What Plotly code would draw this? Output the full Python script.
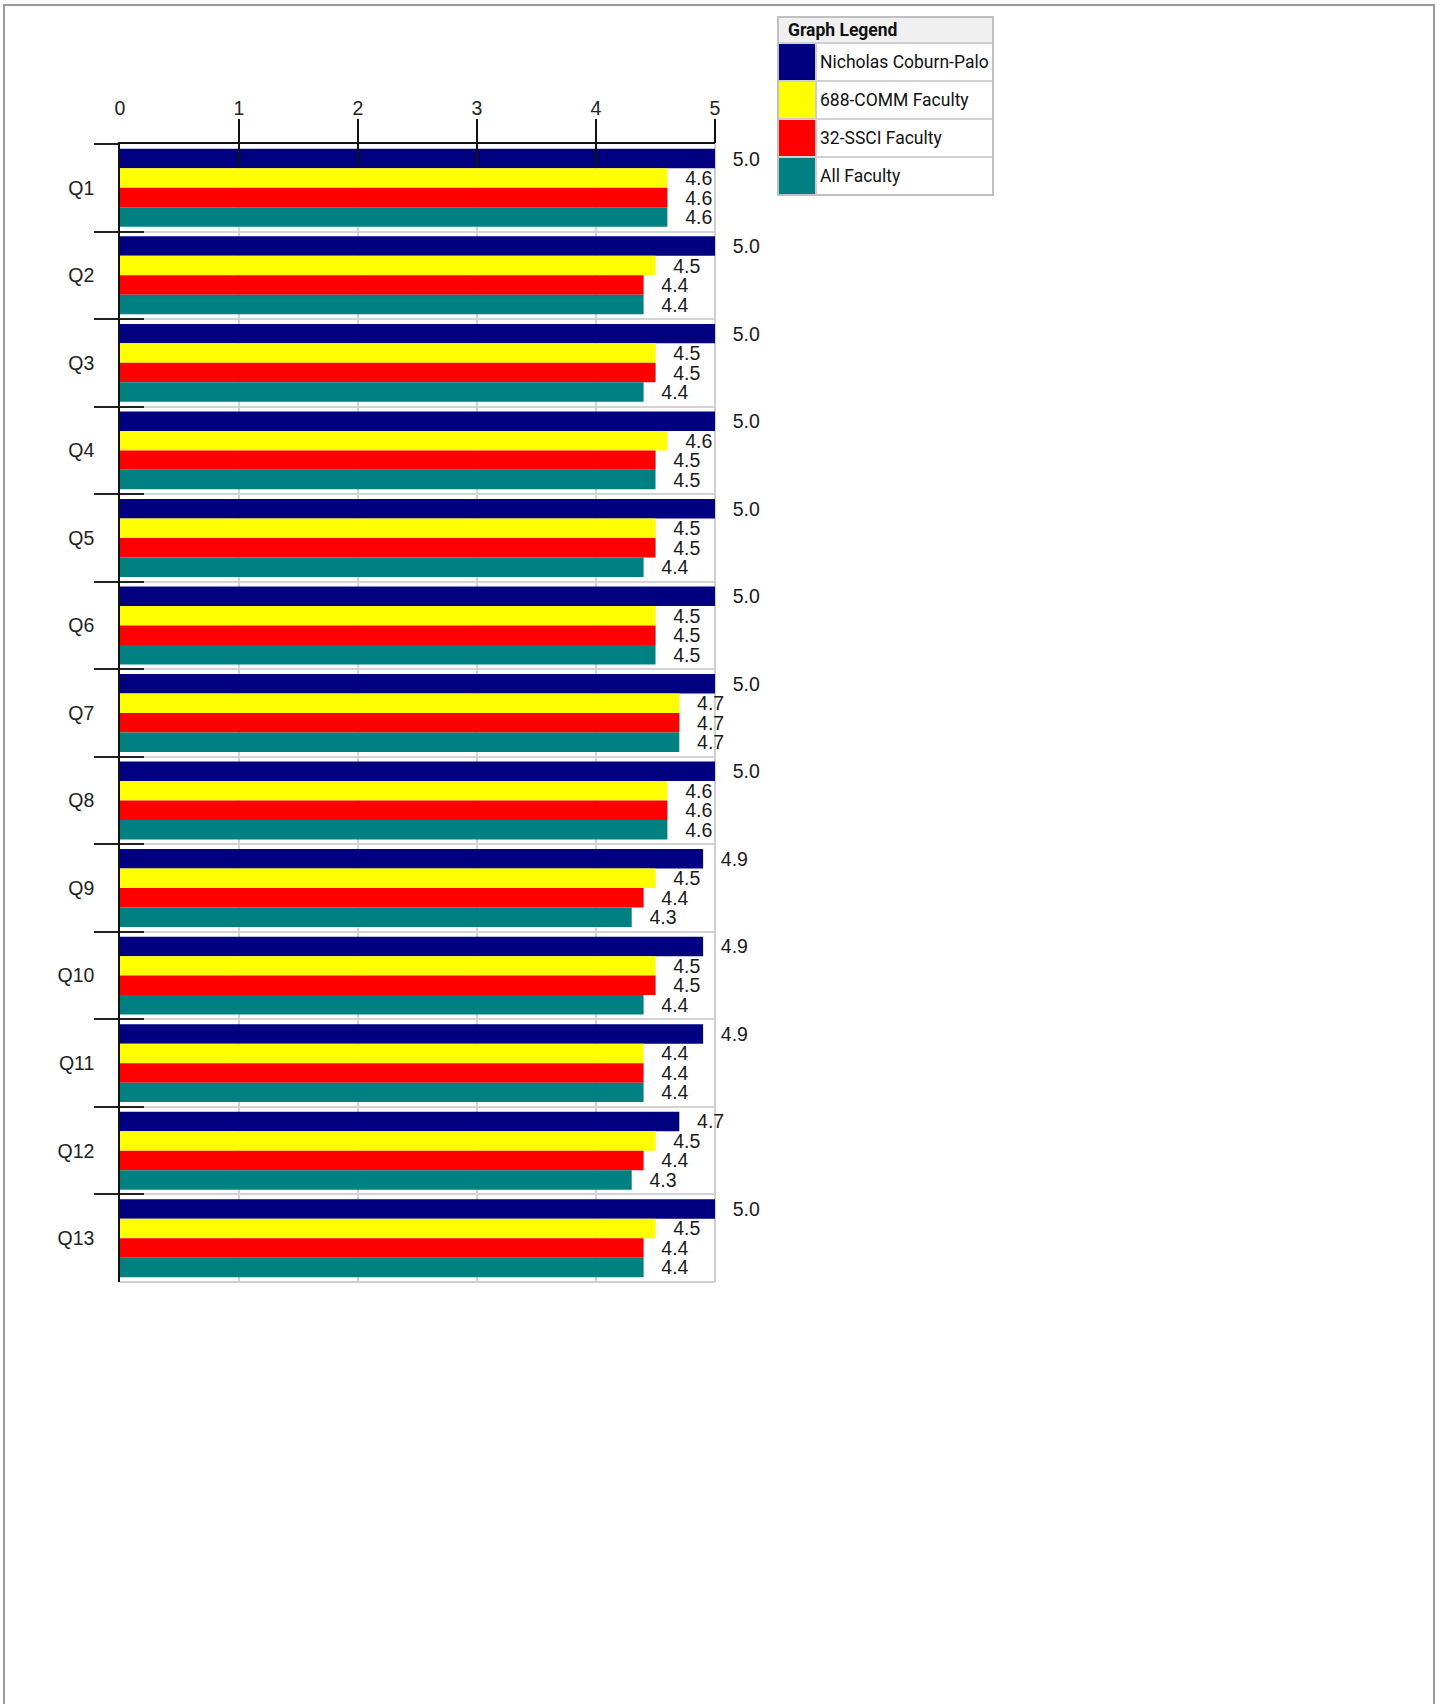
import plotly.graph_objects as go

questions = ["Q1", "Q2", "Q3", "Q4", "Q5", "Q6", "Q7", "Q8", "Q9", "Q10", "Q11", "Q12", "Q13"]
series_names = ["Nicholas Coburn-Palo", "688-COMM Faculty", "32-SSCI Faculty", "All Faculty"]
instructor = [5.0, 5.0, 5.0, 5.0, 5.0, 5.0, 5.0, 5.0, 4.9, 4.9, 4.9, 4.7, 5.0]
dept = [4.6, 4.5, 4.5, 4.6, 4.5, 4.5, 4.7, 4.6, 4.5, 4.5, 4.4, 4.5, 4.5]
college = [4.6, 4.4, 4.5, 4.5, 4.5, 4.5, 4.7, 4.6, 4.4, 4.5, 4.4, 4.4, 4.4]
all_fac = [4.6, 4.4, 4.4, 4.5, 4.4, 4.5, 4.7, 4.6, 4.3, 4.4, 4.4, 4.3, 4.4]
series_values = [instructor, dept, college, all_fac]
colors = ["#000080", "#FFFF00", "#FF0000", "#008080"]
x_ticks = [0, 1, 2, 3, 4, 5]
x_tick_marks = [1, 2, 3, 4, 5]

FIG_W, FIG_H = 1437, 1704
L, R_EDGE, T, B_EDGE = 120, 715, 144, 1282
W, H = R_EDGE - L, B_EDGE - T

def px(x):
    return (x - L) / W

def py(y):
    return (B_EDGE - y) / H

PAD = "\u00a0\u00a0\u2009"
fig = go.Figure()
for name, vals, col in zip(series_names, series_values, colors):
    fig.add_trace(go.Bar(
        y=questions, x=vals, orientation="h", name=name,
        marker=dict(color=col, line=dict(width=0)),
        text=[PAD + f"{v:.1f}" for v in vals],
        textposition="outside", cliponaxis=False, constraintext="none",
        textfont=dict(family="Liberation Sans, Arial", size=19.5, color="#1a1a1a"),
        showlegend=False, hoverinfo="skip",
    ))

# helper invisible traces for the overlay axes (tick marks)
for xa in ("x2", "x3"):
    fig.add_trace(go.Scatter(x=[0] * len(questions), y=questions, xaxis=xa, yaxis="y2",
                             mode="markers", marker=dict(opacity=0), showlegend=False,
                             hoverinfo="skip"))

n = len(questions)
yrange = [n - 0.5, -0.5]
axis_font = dict(family="Liberation Sans, Arial", size=19.5, color="#222222")
fig.update_layout(
    width=FIG_W, height=FIG_H,
    margin=dict(l=L, r=FIG_W - R_EDGE, t=T, b=FIG_H - B_EDGE, pad=0),
    paper_bgcolor="white", plot_bgcolor="white",
    barmode="group", bargap=0.11, bargroupgap=0,
    xaxis=dict(range=[0, 5], side="top", tickvals=x_ticks, ticks="outside", ticklen=24,
               tickwidth=1.5, tickcolor="rgba(0,0,0,0)", showline=True, linecolor="#111",
               linewidth=1.5, showgrid=True, gridcolor="#d3d3d3", gridwidth=1.5,
               zeroline=False, tickfont=axis_font, ticklabelstandoff=-5, fixedrange=True),
    xaxis2=dict(range=[0, 5], overlaying="x", side="top", tickvals=x_tick_marks,
                ticks="outside", ticklen=24, tickwidth=1.5, tickcolor="#111",
                showticklabels=False, showline=False, showgrid=False, zeroline=False,
                anchor="y"),
    xaxis3=dict(range=[0, 5], overlaying="x", side="top", tickvals=x_tick_marks,
                ticks="inside", ticklen=23, tickwidth=1.5, tickcolor="#111",
                showticklabels=False, showline=False, showgrid=False, zeroline=False,
                anchor="y"),
    yaxis=dict(type="category", categoryorder="array", categoryarray=questions,
               range=yrange, autorange=False, tickson="boundaries", ticks="outside", ticklen=24,
               tickwidth=1.5, tickcolor="#222", showline=True, linecolor="#111", linewidth=1.5,
               showgrid=True, gridcolor="#d3d3d3", gridwidth=1.5, zeroline=False,
               tickfont=axis_font, ticklabelstandoff=20),
    yaxis2=dict(type="category", categoryorder="array", categoryarray=questions,
                overlaying="y", side="left", anchor="x", range=yrange, autorange=False,
                tickson="boundaries", ticks="inside", ticklen=24, tickwidth=1.5,
                tickcolor="#222", showticklabels=False, showline=False, showgrid=False,
                zeroline=False),
)

shapes = []
# page frame
shapes.append(dict(type="rect", xref="paper", yref="paper", x0=px(4), x1=px(1434),
                   y0=py(1760), y1=py(5), line=dict(color="#9a9a9a", width=2),
                   fillcolor="rgba(0,0,0,0)", layer="above"))
# plot right and bottom borders
shapes.append(dict(type="line", xref="paper", yref="paper", x0=1, x1=1, y0=0, y1=1,
                   line=dict(color="#cfcfcf", width=2), layer="below"))
shapes.append(dict(type="line", xref="paper", yref="paper", x0=0, x1=1, y0=0, y1=0,
                   line=dict(color="#cfcfcf", width=2), layer="below"))

# legend table
LX0, LX1, SW = 778, 993, 816
LY0, HEAD, ROW = 17, 43, 38
shapes.append(dict(type="rect", xref="paper", yref="paper", x0=px(LX0), x1=px(LX1),
                   y0=py(HEAD), y1=py(LY0), fillcolor="#f0f0f0", line=dict(width=0)))
annotations = [dict(xref="paper", yref="paper", x=px(786), y=py((LY0 + HEAD) / 2),
                    xanchor="left", yanchor="middle", showarrow=False,
                    text="<b>Graph Legend</b>",
                    font=dict(family="Roboto", size=17.5, color="#111"))]
for i, (name, col) in enumerate(zip(series_names, colors)):
    y0 = HEAD + ROW * i
    y1 = y0 + ROW
    shapes.append(dict(type="rect", xref="paper", yref="paper", x0=px(LX0), x1=px(SW),
                       y0=py(y1), y1=py(y0), fillcolor=col, line=dict(width=0)))
    shapes.append(dict(type="line", xref="paper", yref="paper", x0=px(LX0), x1=px(LX1),
                       y0=py(y0), y1=py(y0), line=dict(color="#d0d0d0", width=2)))
    annotations.append(dict(xref="paper", yref="paper", x=px(818), y=py((y0 + y1) / 2),
                            xanchor="left", yanchor="middle", showarrow=False, text=name,
                            font=dict(family="Roboto", size=17.5, color="#111")))
shapes.append(dict(type="line", xref="paper", yref="paper", x0=px(SW), x1=px(SW),
                   y0=py(HEAD + ROW * 4), y1=py(HEAD), line=dict(color="#d0d0d0", width=2)))
shapes.append(dict(type="rect", xref="paper", yref="paper", x0=px(LX0), x1=px(LX1),
                   y0=py(HEAD + ROW * 4), y1=py(LY0), line=dict(color="#c0c0c0", width=2),
                   fillcolor="rgba(0,0,0,0)"))

fig.update_layout(shapes=shapes, annotations=annotations)

fig.write_html("out.html", post_script="document.body.style.margin='0';",
               config={"displayModeBar": False})
